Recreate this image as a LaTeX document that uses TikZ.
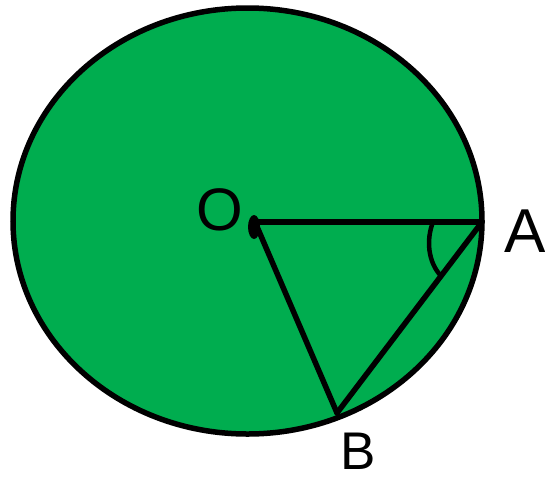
\documentclass[tikz,border=0pt]{standalone}
\usepackage{fontspec}
\setmainfont{Liberation Sans}
\definecolor{disc}{RGB}{0,173,79}
\tikzset{
  edge/.style={line width=5.5pt, line cap=round, line join=round},
  lbl/.style={inner sep=0pt, font=\fontsize{60}{64}\selectfont}
}
\begin{document}
\begin{tikzpicture}[x=1pt,y=-1pt]
\useasboundingbox (0,0) rectangle (545,479);
\filldraw[fill=disc, draw=black, line width=5.5pt] (247.5,221) ellipse [x radius=234.5, y radius=213];
\coordinate (O) at (255,222);
\coordinate (A) at (482,222);
\coordinate (B) at (337,413);
\draw[edge] (O) -- (A);
\draw[edge] (O) -- (B);
\draw[edge] (A) -- (B);
\fill (254,227) ellipse [x radius=6, y radius=12];
\draw[line width=4.5pt] (433,222) .. controls (426,240) and (428,262) .. (441,276);
\node[lbl] (lo) at (220,210) {O};
\node[lbl, font=\fontsize{62}{66}\selectfont] (la) at (525,231) {A};
\node[lbl, font=\fontsize{53}{56}\selectfont] (lb) at (358,451) {B};
\end{tikzpicture}
\end{document}
